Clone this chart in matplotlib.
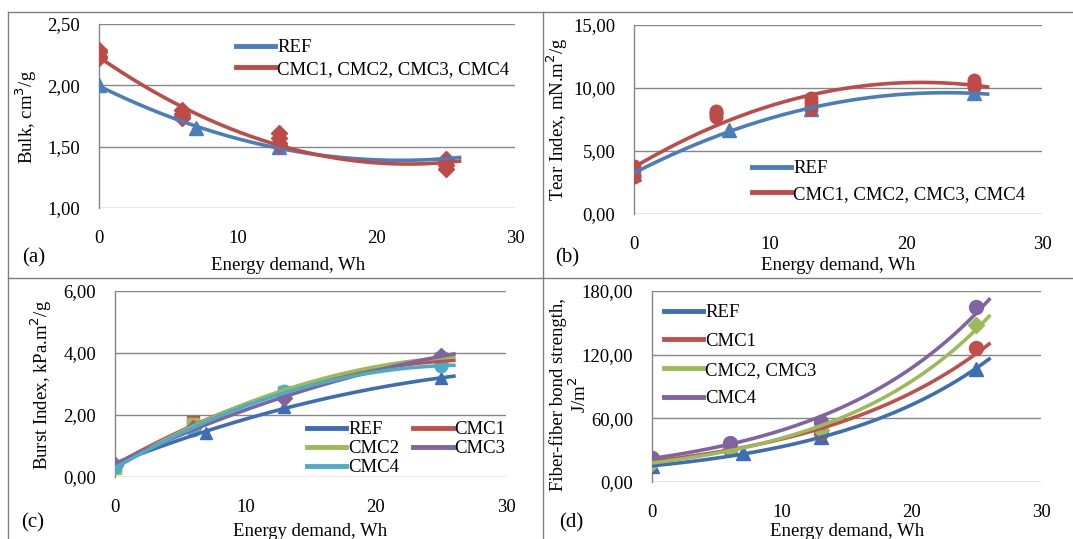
import numpy as np
import matplotlib
matplotlib.use("Agg")
import matplotlib.pyplot as plt
from matplotlib.lines import Line2D

plt.rcParams['font.family'] = ['Liberation Serif', 'DejaVu Serif']

W, H = 1073, 539

# ---- data ----
energy_ref = [0, 7, 13, 25]
energy_cmc = [0, 6, 13, 25]

# (a) bulk, cm3/g
bulk_ref = [2.00, 1.65, 1.50, 1.40]
bulk_cmc1 = [2.29, 1.80, 1.61, 1.40]
bulk_cmc2 = [2.27, 1.77, 1.57, 1.38]
bulk_cmc3 = [2.24, 1.75, 1.53, 1.35]
bulk_cmc4 = [2.22, 1.73, 1.51, 1.32]

# (b) tear index
tear_ref = [3.2, 6.7, 8.3, 9.6]
tear_cmc1 = [3.8, 8.2, 9.2, 10.6]
tear_cmc2 = [3.5, 8.0, 8.9, 10.4]
tear_cmc3 = [3.1, 7.9, 8.6, 10.3]
tear_cmc4 = [2.9, 7.7, 8.3, 10.1]

# (c) burst index
burst_ref = [0.45, 1.42, 2.26, 3.19]
burst_cmc1 = [0.35, 1.77, 2.70, 3.75]
burst_cmc2 = [0.28, 1.72, 2.75, 3.85]
burst_cmc3 = [0.40, 1.58, 2.55, 3.90]
burst_cmc4 = [0.32, 1.52, 2.77, 3.58]

# (d) fiber-fiber bond strength
bond_ref = [15, 27, 42, 106.5]
bond_cmc1 = [20, 31, 46, 126]
bond_cmc23 = [18, 31, 49, 148]
bond_cmc4 = [22.5, 37, 56.5, 165]

BLUE = '#4A7EBB'
RED = '#BE4B48'
REF_DARK = '#3D6DB5'
C_RED = '#C0504D'
C_GREEN = '#9BBB59'
C_PURPLE = '#8064A2'
C_CYAN = '#4BACC6'
GRID = '#868686'
FS = 13.5


def px_axes(l, t, r, b):
    return fig.add_axes([l / W, 1 - b / H, (r - l) / W, (b - t) / H])


def ftext(x, y, s, size=FS, **kw):
    fig.text(x / W, 1 - y / H, s, ha='center', va='center', fontsize=size, **kw)


def trend(ax, xs, ys, color, kind='poly'):
    xx = np.linspace(0, 26, 200)
    if kind == 'exp':
        b, lna = np.polyfit(xs, np.log(ys), 1)
        yy = np.exp(lna) * np.exp(b * xx)
    else:
        yy = np.polyval(np.polyfit(xs, ys, 2), xx)
    ax.plot(xx, yy, color=color, lw=2.6, zorder=4)


def style(ax, ymin, ymax, ystep):
    ax.set_xlim(0, 30)
    ax.set_ylim(ymin, ymax)
    ax.set_xticks([0, 10, 20, 30])
    yt = np.arange(ymin, ymax + ystep / 2, ystep)
    ax.set_yticks(yt)
    ax.set_yticklabels([f"{v:.2f}".replace('.', ',') for v in yt])
    ax.tick_params(length=0, labelsize=FS)
    ax.tick_params(axis='x', pad=16)
    ax.tick_params(axis='y', pad=13.5)
    for s in ['top', 'right', 'bottom']:
        ax.spines[s].set_visible(False)
    ax.spines['left'].set_color(GRID)
    ax.spines['left'].set_linewidth(1)
    ax.grid(axis='y', color=GRID, lw=1)
    ax.set_axisbelow(True)
    ax.patch.set_alpha(0)


def legend(ax, items, x, y, ncol=1, spacing=0.2, colsp=0.7):
    handles = [Line2D([], [], color=c, lw=3.5) for _, c in items]
    ax.legend(handles, [n for n, _ in items], loc='upper left',
              bbox_to_anchor=(x / W, 1 - y / H), bbox_transform=fig.transFigure,
              frameon=False, fontsize=FS, handlelength=2.1, handletextpad=0.1,
              borderpad=0, borderaxespad=0, labelspacing=spacing, ncol=ncol,
              columnspacing=colsp)


fig = plt.figure(figsize=(W / 100, H / 100), dpi=100)

# frame lines
for (x0, y0, x1, y1) in [(8, 12, 8, H), (8, 12, W, 12), (543, 12, 543, H),
                         (8, 278, W, 278)]:
    fig.add_artist(Line2D([x0 / W, x1 / W], [1 - y0 / H, 1 - y1 / H],
                          color='#7F7F7F', lw=1))

# ---- (a) ----
ax = px_axes(99, 24, 515, 208)
style(ax, 1.0, 2.5, 0.5)
cmc_all_a = bulk_cmc1 + bulk_cmc2 + bulk_cmc3 + bulk_cmc4
x_all = energy_cmc * 4
ax.plot(energy_ref, bulk_ref, '^', color=BLUE, ms=10, zorder=3)
ax.plot(x_all, cmc_all_a, 'D', color=RED, ms=8, zorder=3)
trend(ax, energy_ref, bulk_ref, BLUE)
trend(ax, x_all, cmc_all_a, RED)
legend(ax, [('REF', BLUE), ('CMC1, CMC2, CMC3, CMC4', RED)], 236, 39, spacing=0.25)
ftext(26, 117, 'Bulk, cm$^3$/g', rotation=90)
ftext(288, 265, 'Energy demand, Wh')
ftext(34, 258, '(a)', size=15)

# ---- (b) ----
ax = px_axes(634, 25, 1042, 214)
style(ax, 0, 15, 5)
cmc_all_b = tear_cmc1 + tear_cmc2 + tear_cmc3 + tear_cmc4
ax.plot(energy_ref, tear_ref, '^', color=BLUE, ms=10, zorder=3)
ax.plot(x_all, cmc_all_b, 'o', color=RED, ms=9, zorder=3)
trend(ax, energy_ref, tear_ref, BLUE)
trend(ax, x_all, cmc_all_b, RED)
legend(ax, [('REF', BLUE), ('CMC1, CMC2, CMC3, CMC4', RED)], 752, 160, spacing=0.45)
ftext(557, 119, 'Tear Index, mN.m$^2$/g', rotation=90)
ftext(838, 265, 'Energy demand, Wh')
ftext(567, 258, '(b)', size=15)

# ---- (c) ----
ax = px_axes(115, 291, 506, 477)
style(ax, 0, 6, 2)
series_c = [('REF', energy_ref, burst_ref, REF_DARK, '^'),
            ('CMC1', energy_cmc, burst_cmc1, C_RED, 's'),
            ('CMC2', energy_cmc, burst_cmc2, C_GREEN, 's'),
            ('CMC3', energy_cmc, burst_cmc3, C_PURPLE, 'D'),
            ('CMC4', energy_cmc, burst_cmc4, C_CYAN, 'o')]
for name, xs, ys, c, m in series_c:
    ax.plot(xs, ys, m, color=c, ms=9 if m != 'D' else 8, zorder=3)
for name, xs, ys, c, m in series_c:
    trend(ax, xs, ys, c)
# legend reads row-wise: REF CMC1 / CMC2 CMC3 / CMC4
order_c = [0, 2, 4, 1, 3]
legend(ax, [(series_c[i][0], series_c[i][3]) for i in order_c], 307, 421,
       ncol=2, spacing=0.1, colsp=0.75)
ftext(41, 385, 'Burst Index, kPa.m$^2$/g', rotation=90)
ftext(310, 532, 'Energy demand, Wh')
ftext(33, 523, '(c)', size=15)

# ---- (d) ----
ax = px_axes(652, 291, 1041, 482)
style(ax, 0, 180, 60)
series_d = [('REF', energy_ref, bond_ref, REF_DARK, '^'),
            ('CMC1', energy_cmc, bond_cmc1, C_RED, 'o'),
            ('CMC2, CMC3', energy_cmc, bond_cmc23, C_GREEN, 'D'),
            ('CMC4', energy_cmc, bond_cmc4, C_PURPLE, 'o')]
for name, xs, ys, c, m in series_d:
    ax.plot(xs, ys, m, color=c, ms=10 if m != 'D' else 8, zorder=3)
for name, xs, ys, c, m in series_d:
    trend(ax, xs, ys, c, kind='exp')
legend(ax, [(n, c) for n, _, _, c, _ in series_d], 664, 304, spacing=0.62)
ftext(558, 395, 'Fiber-fiber bond strength,', rotation=90)
ftext(579, 395, 'J/m$^2$', rotation=90)
ftext(847, 532, 'Energy demand, Wh')
ftext(571, 523, '(d)', size=15)

fig.savefig('out.png', dpi=100)
